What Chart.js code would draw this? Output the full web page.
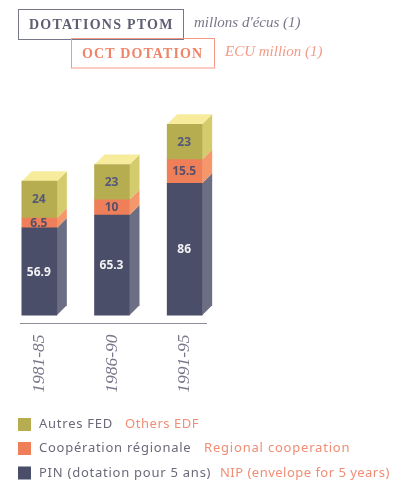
<!DOCTYPE html>
<html>
<head>
<meta charset="utf-8">
<style>
html,body{margin:0;padding:0;background:#fff;}
#wrap{position:relative;width:406px;height:481px;}
canvas{display:block;}
</style>
<script src="https://cdn.jsdelivr.net/npm/chart.js@4"></script>
</head>
<body>
<div id="wrap"><canvas id="c" width="406" height="481"></canvas></div>
<script>
const categories = ["1981-85", "1986-90", "1991-95"];
const pinValues = [56.9, 65.3, 86];
const regionalValues = [6.5, 10, 15.5];
const otherValues = [24, 23, 23];
const frenchLabels = ["Autres FED", "Coopération régionale", "PIN (dotation pour 5 ans)"];
const englishLabels = ["Others EDF", "Regional cooperation", "NIP (envelope for 5 years)"];
const titleFr = "DOTATIONS PTOM";
const titleEn = "OCT DOTATION";
const unitFr = "millons d'écus (1)";
const unitEn = "ECU million (1)";

const NAVY = "#4b4e69", NAVY_SIDE = "#6c6f83";
const ORANGE = "#ee7f58", ORANGE_SIDE = "#f4986c";
const OLIVE = "#b6ad50", OLIVE_SIDE = "#d3cb6c", OLIVE_TOP = "#f6ec9c";
const GREY_TEXT = "#6a6a7a", RED_TEXT = "#f08d75";
const DEPTH = 10;

const sideColors = [NAVY_SIDE, ORANGE_SIDE, OLIVE_SIDE];
const labelColors = ["#f2f2f4", "#55506a", "#55587a"];

function poly(ctx, pts, color) {
  ctx.fillStyle = color;
  ctx.beginPath();
  pts.forEach((p, i) => i ? ctx.lineTo(p[0], p[1]) : ctx.moveTo(p[0], p[1]));
  ctx.closePath();
  ctx.fill();
}

const depthPlugin = {
  id: "depth",
  beforeDatasetsDraw(chart) {
    const ctx = chart.ctx;
    chart.data.datasets.forEach((ds, di) => {
      chart.getDatasetMeta(di).data.forEach((bar) => {
        const right = bar.x + bar.width / 2, left = bar.x - bar.width / 2;
        poly(ctx, [[right, bar.base], [right + DEPTH, bar.base - DEPTH], [right + DEPTH, bar.y - DEPTH], [right, bar.y]], sideColors[di]);
        if (di === chart.data.datasets.length - 1) {
          poly(ctx, [[left, bar.y], [left + DEPTH, bar.y - DEPTH], [right + DEPTH, bar.y - DEPTH], [right, bar.y]], OLIVE_TOP);
        }
      });
    });
  },
  afterDatasetsDraw(chart) {
    const ctx = chart.ctx;
    ctx.save();
    // value labels
    ctx.font = "bold 12px 'Noto Sans'";
    ctx.textAlign = "center";
    ctx.textBaseline = "middle";
    chart.data.datasets.forEach((ds, di) => {
      ctx.fillStyle = labelColors[di];
      chart.getDatasetMeta(di).data.forEach((bar, i) => {
        ctx.fillText(String(ds.data[i]), bar.x - 0.5, (bar.y + bar.base) / 2 + 0.5);
      });
    });
    // axis line
    const yb = chart.scales.y.bottom;
    ctx.strokeStyle = "#8e8e96";
    ctx.lineWidth = 1.2;
    ctx.beginPath();
    ctx.moveTo(20, yb);
    ctx.lineTo(207, yb);
    ctx.stroke();
    // title boxes
    ctx.textAlign = "left";
    ctx.lineWidth = 1;
    ctx.strokeStyle = "#77778a";
    ctx.strokeRect(18.5, 9.5, 165, 30);
    ctx.strokeStyle = "#f29a85";
    ctx.strokeRect(71.5, 38.5, 143, 29.5);
    ctx.font = "bold 14px 'Liberation Serif'";
    ctx.letterSpacing = "1.25px";
    ctx.fillStyle = "#5e5e72";
    ctx.fillText(titleFr, 29, 25);
    ctx.fillStyle = "#ee8468";
    ctx.letterSpacing = "1.1px";
    ctx.fillText(titleEn, 82, 54.5);
    ctx.letterSpacing = "0px";
    ctx.font = "italic 15px 'Liberation Serif'";
    ctx.fillStyle = "#77778a";
    ctx.fillText(unitFr, 194, 23);
    ctx.fillStyle = "#f29a85";
    ctx.fillText(unitEn, 225, 52.5);
    // legend
    const swatches = [OLIVE, ORANGE, NAVY];
    const rows = [424.5, 448.5, 473];
    const englishX = [125, 204, 220];
    const englishSpacing = ["0.55px", "0.8px", "0.48px"];
    ctx.font = "13px 'Noto Sans'";
    rows.forEach((y, i) => {
      ctx.fillStyle = swatches[i];
      ctx.fillRect(18, y - 6.5, 13, 13);
      ctx.letterSpacing = "0.75px";
      ctx.fillStyle = GREY_TEXT;
      ctx.fillText(frenchLabels[i], 39, y);
      ctx.letterSpacing = englishSpacing[i];
      ctx.fillStyle = RED_TEXT;
      ctx.fillText(englishLabels[i], englishX[i], y);
    });
    ctx.restore();
  }
};

new Chart(document.getElementById("c"), {
  type: "bar",
  data: {
    labels: categories,
    datasets: [
      { label: frenchLabels[2], data: pinValues, backgroundColor: NAVY },
      { label: frenchLabels[1], data: regionalValues, backgroundColor: ORANGE },
      { label: frenchLabels[0], data: otherValues, backgroundColor: OLIVE }
    ]
  },
  options: {
    responsive: false,
    animation: false,
    layout: { padding: { left: 3, right: 185, top: 100.5, bottom: 0 } },
    datasets: { bar: { barThickness: 35 } },
    plugins: { legend: { display: false }, tooltip: { enabled: false } },
    scales: {
      x: {
        stacked: true,
        grid: { display: false, drawTicks: false },
        border: { display: false },
        afterFit(scale) { scale.height = 157.5; },
        ticks: {
          minRotation: 90, maxRotation: 90, padding: 11, autoSkip: false,
          color: "#77778a",
          font: { family: "'Liberation Serif'", style: "italic", size: 17.5 }
        }
      },
      y: { stacked: true, display: false, min: -5.4, max: 140 }
    }
  },
  plugins: [depthPlugin]
});
</script>
</body>
</html>
